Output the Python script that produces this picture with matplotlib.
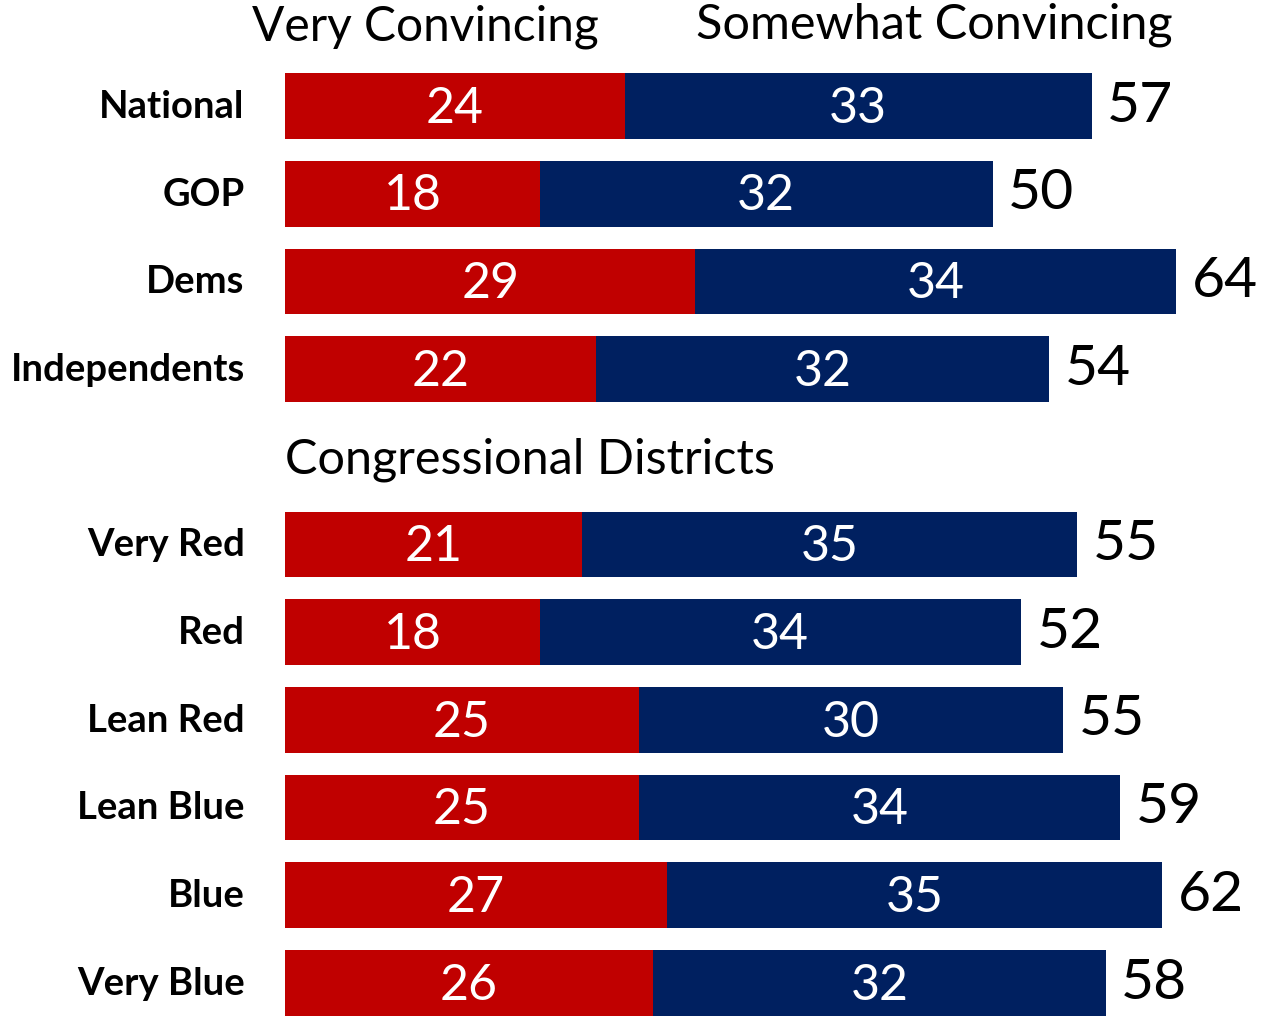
import matplotlib
matplotlib.use("Agg")
import matplotlib.pyplot as plt

plt.rcParams["font.family"] = ["Lato", "DejaVu Sans"]

# Survey rows; the empty slot holds the "Congressional Districts" heading
categories = ["National", "GOP", "Dems", "Independents", "",
              "Very Red", "Red", "Lean Red", "Lean Blue", "Blue", "Very Blue"]
very_convincing = [24, 18, 29, 22, None, 21, 18, 25, 25, 27, 26]
somewhat_convincing = [33, 32, 34, 32, None, 35, 34, 30, 34, 35, 32]
total_convincing = [57, 50, 64, 54, None, 55, 52, 55, 59, 62, 58]

RED = "#C00000"
NAVY = "#002060"

fig = plt.figure(figsize=(12.70, 10.18), dpi=100)
W, H = 1270, 1018
x0_px, px_per_unit = 285, 14.15
row0_px, row_step_px = 106, 87.7

ax = fig.add_axes([x0_px / W, 0, 1 - x0_px / W, 1])
ax.set_xlim(0, (W - x0_px) / px_per_unit)
ax.set_ylim((H - row0_px) / row_step_px, -row0_px / row_step_px)
ax.axis("off")

bar_h = 0.75
for i, (cat, v, s, t) in enumerate(zip(categories, very_convincing,
                                        somewhat_convincing, total_convincing)):
    if v is None:
        continue
    ax.barh(i, v, height=bar_h, left=0, color=RED)
    ax.barh(i, s, height=bar_h, left=v, color=NAVY)
    ax.text(v / 2, i + 0.03, f"{v}", ha="center", va="center",
            color="white", fontsize=36)
    ax.text(v + s / 2, i + 0.03, f"{s}", ha="center", va="center",
            color="white", fontsize=36)
    ax.text(v + s + 1.1, i, f"{t}", ha="left", va="center",
            color="black", fontsize=41)
    ax.text(-2.85, i + 0.01, cat, ha="right", va="center", fontsize=27.5,
            fontweight="bold", color="black")

# Column headings and group heading
ax.text(9.9, -0.9, "Very Convincing", ha="center", va="center", fontsize=34.5)
ax.text(45.9, -0.93, "Somewhat Convincing", ha="center", va="center", fontsize=35)
ax.text(0, 4.03, "Congressional Districts", ha="left", va="center", fontsize=35)

fig.savefig("out.png", dpi=100)
